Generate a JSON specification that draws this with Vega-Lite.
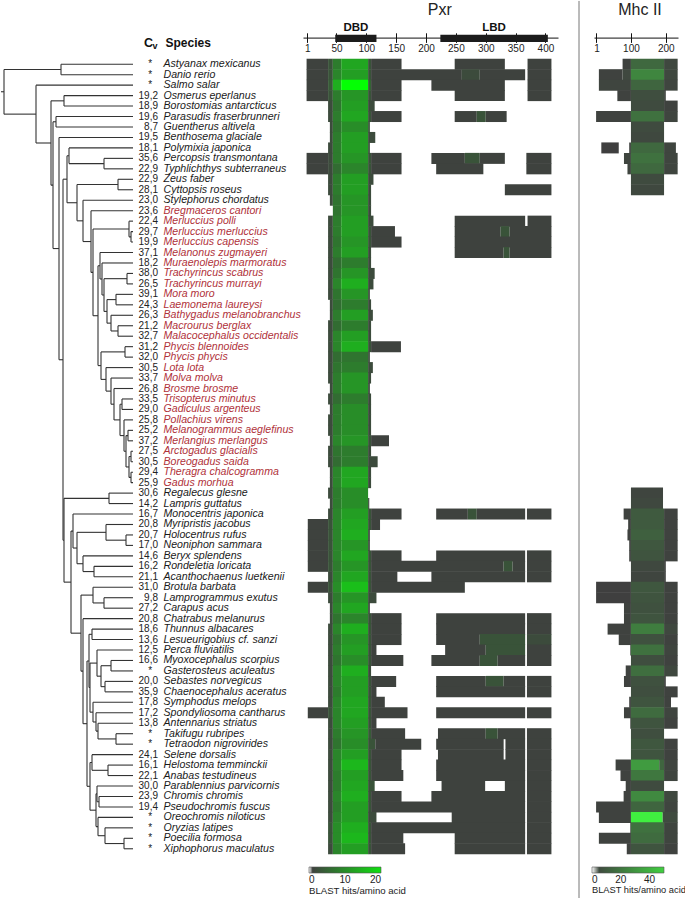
{
  "$schema": "https://vega.github.io/schema/vega-lite/v6.json",
  "padding": 0,
  "background": "white",
  "config": {"view": {"stroke": null}, "font": "Liberation Sans"},
  "datasets": {
    "species": [
      {"r":0,"sp":"Astyanax mexicanus","cv":"*","fam":"other"},
      {"r":1,"sp":"Danio rerio","cv":"*","fam":"other"},
      {"r":2,"sp":"Salmo salar","cv":"*","fam":"other"},
      {"r":3,"sp":"Osmerus eperlanus","cv":"19,2","fam":"other"},
      {"r":4,"sp":"Borostomias antarcticus","cv":"18,9","fam":"other"},
      {"r":5,"sp":"Parasudis fraserbrunneri","cv":"19,6","fam":"other"},
      {"r":6,"sp":"Guentherus altivela","cv":"8,7","fam":"other"},
      {"r":7,"sp":"Benthosema glaciale","cv":"19,5","fam":"other"},
      {"r":8,"sp":"Polymixia japonica","cv":"18,1","fam":"other"},
      {"r":9,"sp":"Percopsis transmontana","cv":"35,6","fam":"other"},
      {"r":10,"sp":"Typhlichthys subterraneus","cv":"22,9","fam":"other"},
      {"r":11,"sp":"Zeus faber","cv":"22,9","fam":"other"},
      {"r":12,"sp":"Cyttopsis roseus","cv":"28,1","fam":"other"},
      {"r":13,"sp":"Stylephorus chordatus","cv":"23,0","fam":"other"},
      {"r":14,"sp":"Bregmaceros cantori","cv":"23,6","fam":"Gadiformes"},
      {"r":15,"sp":"Merluccius polli","cv":"22,4","fam":"Gadiformes"},
      {"r":16,"sp":"Merluccius merluccius","cv":"29,7","fam":"Gadiformes"},
      {"r":17,"sp":"Merluccius capensis","cv":"19,9","fam":"Gadiformes"},
      {"r":18,"sp":"Melanonus zugmayeri","cv":"37,1","fam":"Gadiformes"},
      {"r":19,"sp":"Muraenolepis marmoratus","cv":"18,2","fam":"Gadiformes"},
      {"r":20,"sp":"Trachyrincus scabrus","cv":"38,0","fam":"Gadiformes"},
      {"r":21,"sp":"Trachyrincus murrayi","cv":"26,5","fam":"Gadiformes"},
      {"r":22,"sp":"Mora moro","cv":"39,1","fam":"Gadiformes"},
      {"r":23,"sp":"Laemonema laureysi","cv":"24,3","fam":"Gadiformes"},
      {"r":24,"sp":"Bathygadus melanobranchus","cv":"26,3","fam":"Gadiformes"},
      {"r":25,"sp":"Macrourus berglax","cv":"21,2","fam":"Gadiformes"},
      {"r":26,"sp":"Malacocephalus occidentalis","cv":"32,7","fam":"Gadiformes"},
      {"r":27,"sp":"Phycis blennoides","cv":"31,2","fam":"Gadiformes"},
      {"r":28,"sp":"Phycis phycis","cv":"32,0","fam":"Gadiformes"},
      {"r":29,"sp":"Lota lota","cv":"30,5","fam":"Gadiformes"},
      {"r":30,"sp":"Molva molva","cv":"33,7","fam":"Gadiformes"},
      {"r":31,"sp":"Brosme brosme","cv":"26,8","fam":"Gadiformes"},
      {"r":32,"sp":"Trisopterus minutus","cv":"33,5","fam":"Gadiformes"},
      {"r":33,"sp":"Gadiculus argenteus","cv":"29,0","fam":"Gadiformes"},
      {"r":34,"sp":"Pollachius virens","cv":"25,8","fam":"Gadiformes"},
      {"r":35,"sp":"Melanogrammus aeglefinus","cv":"25,2","fam":"Gadiformes"},
      {"r":36,"sp":"Merlangius merlangus","cv":"37,2","fam":"Gadiformes"},
      {"r":37,"sp":"Arctogadus glacialis","cv":"27,5","fam":"Gadiformes"},
      {"r":38,"sp":"Boreogadus saida","cv":"30,5","fam":"Gadiformes"},
      {"r":39,"sp":"Theragra chalcogramma","cv":"29,4","fam":"Gadiformes"},
      {"r":40,"sp":"Gadus morhua","cv":"25,9","fam":"Gadiformes"},
      {"r":41,"sp":"Regalecus glesne","cv":"30,6","fam":"other"},
      {"r":42,"sp":"Lampris guttatus","cv":"14,2","fam":"other"},
      {"r":43,"sp":"Monocentris japonica","cv":"16,7","fam":"other"},
      {"r":44,"sp":"Myripristis jacobus","cv":"20,8","fam":"other"},
      {"r":45,"sp":"Holocentrus rufus","cv":"20,7","fam":"other"},
      {"r":46,"sp":"Neoniphon sammara","cv":"17,0","fam":"other"},
      {"r":47,"sp":"Beryx splendens","cv":"14,6","fam":"other"},
      {"r":48,"sp":"Rondeletia loricata","cv":"16,2","fam":"other"},
      {"r":49,"sp":"Acanthochaenus luetkenii","cv":"21,1","fam":"other"},
      {"r":50,"sp":"Brotula barbata","cv":"31,0","fam":"other"},
      {"r":51,"sp":"Lamprogrammus exutus","cv":"9,8","fam":"other"},
      {"r":52,"sp":"Carapus acus","cv":"27,2","fam":"other"},
      {"r":53,"sp":"Chatrabus melanurus","cv":"20,8","fam":"other"},
      {"r":54,"sp":"Thunnus albacares","cv":"18,6","fam":"other"},
      {"r":55,"sp":"Lesueurigobius cf. sanzi","cv":"13,6","fam":"other"},
      {"r":56,"sp":"Perca fluviatilis","cv":"12,5","fam":"other"},
      {"r":57,"sp":"Myoxocephalus scorpius","cv":"16,6","fam":"other"},
      {"r":58,"sp":"Gasterosteus aculeatus","cv":"*","fam":"other"},
      {"r":59,"sp":"Sebastes norvegicus","cv":"20,0","fam":"other"},
      {"r":60,"sp":"Chaenocephalus aceratus","cv":"35,9","fam":"other"},
      {"r":61,"sp":"Symphodus melops","cv":"17,8","fam":"other"},
      {"r":62,"sp":"Spondyliosoma cantharus","cv":"17,2","fam":"other"},
      {"r":63,"sp":"Antennarius striatus","cv":"13,8","fam":"other"},
      {"r":64,"sp":"Takifugu rubripes","cv":"*","fam":"other"},
      {"r":65,"sp":"Tetraodon nigrovirides","cv":"*","fam":"other"},
      {"r":66,"sp":"Selene dorsalis","cv":"24,1","fam":"other"},
      {"r":67,"sp":"Helostoma temminckii","cv":"16,1","fam":"other"},
      {"r":68,"sp":"Anabas testudineus","cv":"22,1","fam":"other"},
      {"r":69,"sp":"Parablennius parvicornis","cv":"30,0","fam":"other"},
      {"r":70,"sp":"Chromis chromis","cv":"23,9","fam":"other"},
      {"r":71,"sp":"Pseudochromis fuscus","cv":"19,4","fam":"other"},
      {"r":72,"sp":"Oreochromis niloticus","cv":"*","fam":"other"},
      {"r":73,"sp":"Oryzias latipes","cv":"*","fam":"other"},
      {"r":74,"sp":"Poecilia formosa","cv":"*","fam":"other"},
      {"r":75,"sp":"Xiphophorus maculatus","cv":"*","fam":"other"}
    ],
    "tree": [
      {"x":3,"p":0,"y":2.63,"lo":0.5,"hi":4.77},
      {"x":60,"p":3,"y":0.5,"lo":0,"hi":1},
      {"x":35,"p":3,"y":4.77,"lo":2,"hi":7.53},
      {"x":50,"p":35,"y":7.53,"lo":3.5,"hi":11.56},
      {"x":63,"p":50,"y":3.5,"lo":3,"hi":4},
      {"x":52,"p":50,"y":11.56,"lo":5.5,"hi":17.62},
      {"x":55,"p":52,"y":5.5,"lo":5,"hi":6},
      {"x":58,"p":52,"y":17.62,"lo":7,"hi":28.25},
      {"x":62,"p":58,"y":28.25,"lo":10.99,"hi":45.5},
      {"x":66,"p":62,"y":10.99,"lo":8.75,"hi":13.24},
      {"x":68,"p":66,"y":8.75,"lo":8,"hi":9.5},
      {"x":103,"p":68,"y":9.5,"lo":9,"hi":10},
      {"x":76,"p":66,"y":13.24,"lo":11.5,"hi":14.97},
      {"x":117,"p":76,"y":11.5,"lo":11,"hi":12},
      {"x":82,"p":76,"y":14.97,"lo":13,"hi":16.95},
      {"x":90,"p":82,"y":16.95,"lo":14,"hi":19.9},
      {"x":92,"p":90,"y":19.9,"lo":15.75,"hi":24.04},
      {"x":128,"p":92,"y":15.75,"lo":15,"hi":16.5},
      {"x":130,"p":128,"y":16.5,"lo":16,"hi":17},
      {"x":97,"p":92,"y":24.04,"lo":19.27,"hi":28.81},
      {"x":99,"p":97,"y":19.27,"lo":18,"hi":20.53},
      {"x":101,"p":99,"y":20.53,"lo":19,"hi":22.06},
      {"x":103,"p":101,"y":22.06,"lo":20.5,"hi":23.63},
      {"x":126,"p":103,"y":20.5,"lo":20,"hi":21},
      {"x":106,"p":103,"y":23.63,"lo":22.5,"hi":24.75},
      {"x":115,"p":106,"y":22.5,"lo":22,"hi":23},
      {"x":110,"p":106,"y":24.75,"lo":24,"hi":25.5},
      {"x":117,"p":110,"y":25.5,"lo":25,"hi":26},
      {"x":100,"p":97,"y":28.81,"lo":27.5,"hi":30.13},
      {"x":124,"p":100,"y":27.5,"lo":27,"hi":28},
      {"x":105,"p":100,"y":30.13,"lo":29,"hi":31.25},
      {"x":110,"p":105,"y":31.25,"lo":30,"hi":32.5},
      {"x":113,"p":110,"y":32.5,"lo":31,"hi":34},
      {"x":119,"p":113,"y":34,"lo":32.5,"hi":35.5},
      {"x":121,"p":119,"y":32.5,"lo":32,"hi":33},
      {"x":123,"p":119,"y":35.5,"lo":34,"hi":37},
      {"x":125,"p":123,"y":37,"lo":35.5,"hi":38.5},
      {"x":127,"p":125,"y":35.5,"lo":35,"hi":36},
      {"x":128,"p":125,"y":38.5,"lo":37.5,"hi":39.5},
      {"x":130,"p":128,"y":37.5,"lo":37,"hi":38},
      {"x":130,"p":128,"y":39.5,"lo":39,"hi":40},
      {"x":63,"p":62,"y":45.5,"lo":41.5,"hi":49.51},
      {"x":108,"p":63,"y":41.5,"lo":41,"hi":42},
      {"x":70,"p":63,"y":49.51,"lo":44.63,"hi":54.39},
      {"x":72,"p":70,"y":44.63,"lo":43,"hi":46.25},
      {"x":76,"p":72,"y":46.25,"lo":44.75,"hi":47.75},
      {"x":105,"p":76,"y":44.75,"lo":44,"hi":45.5},
      {"x":125,"p":105,"y":45.5,"lo":45,"hi":46},
      {"x":82,"p":76,"y":47.75,"lo":47,"hi":48.5},
      {"x":93,"p":82,"y":48.5,"lo":48,"hi":49},
      {"x":80,"p":70,"y":54.39,"lo":50.75,"hi":58.02},
      {"x":92,"p":80,"y":50.75,"lo":50,"hi":51.5},
      {"x":103,"p":92,"y":51.5,"lo":51,"hi":52},
      {"x":82,"p":80,"y":58.02,"lo":53,"hi":63.04},
      {"x":86,"p":82,"y":63.04,"lo":57.05,"hi":69.03},
      {"x":88,"p":86,"y":57.05,"lo":54.5,"hi":59.59},
      {"x":91,"p":88,"y":54.5,"lo":54,"hi":55},
      {"x":89,"p":88,"y":59.59,"lo":57.25,"hi":61.94},
      {"x":96,"p":89,"y":57.25,"lo":56,"hi":58.5},
      {"x":100,"p":96,"y":58.5,"lo":57.5,"hi":59.5},
      {"x":110,"p":100,"y":57.5,"lo":57,"hi":58},
      {"x":104,"p":100,"y":59.5,"lo":59,"hi":60},
      {"x":92,"p":89,"y":61.94,"lo":61,"hi":62.88},
      {"x":95,"p":92,"y":62.88,"lo":62,"hi":63.75},
      {"x":97,"p":95,"y":63.75,"lo":63,"hi":64.5},
      {"x":115,"p":97,"y":64.5,"lo":64,"hi":65},
      {"x":89,"p":86,"y":69.03,"lo":66.75,"hi":71.31},
      {"x":91,"p":89,"y":66.75,"lo":66,"hi":67.5},
      {"x":107,"p":91,"y":67.5,"lo":67,"hi":68},
      {"x":95,"p":89,"y":71.31,"lo":69.75,"hi":72.88},
      {"x":96,"p":95,"y":69.75,"lo":69,"hi":70.5},
      {"x":98,"p":96,"y":70.5,"lo":70,"hi":71},
      {"x":97,"p":95,"y":72.88,"lo":72,"hi":73.75},
      {"x":104,"p":97,"y":73.75,"lo":73,"hi":74.5},
      {"x":123,"p":104,"y":74.5,"lo":74,"hi":75},
      {"x":132,"p":60,"y":0},{"x":132,"p":60,"y":1},{"x":132,"p":35,"y":2},{"x":132,"p":63,"y":3},{"x":132,"p":63,"y":4},
      {"x":132,"p":55,"y":5},{"x":132,"p":55,"y":6},{"x":132,"p":58,"y":7},{"x":132,"p":68,"y":8},{"x":132,"p":103,"y":9},
      {"x":132,"p":103,"y":10},{"x":132,"p":117,"y":11},{"x":132,"p":117,"y":12},{"x":132,"p":82,"y":13},{"x":132,"p":90,"y":14},
      {"x":132,"p":128,"y":15},{"x":132,"p":130,"y":16},{"x":132,"p":130,"y":17},{"x":132,"p":99,"y":18},{"x":132,"p":101,"y":19},
      {"x":132,"p":126,"y":20},{"x":132,"p":126,"y":21},{"x":132,"p":115,"y":22},{"x":132,"p":115,"y":23},{"x":132,"p":110,"y":24},
      {"x":132,"p":117,"y":25},{"x":132,"p":117,"y":26},{"x":132,"p":124,"y":27},{"x":132,"p":124,"y":28},{"x":132,"p":105,"y":29},
      {"x":132,"p":110,"y":30},{"x":132,"p":113,"y":31},{"x":132,"p":121,"y":32},{"x":132,"p":121,"y":33},{"x":132,"p":123,"y":34},
      {"x":132,"p":127,"y":35},{"x":132,"p":127,"y":36},{"x":132,"p":130,"y":37},{"x":132,"p":130,"y":38},{"x":132,"p":130,"y":39},
      {"x":132,"p":130,"y":40},{"x":132,"p":108,"y":41},{"x":132,"p":108,"y":42},{"x":132,"p":72,"y":43},{"x":132,"p":105,"y":44},
      {"x":132,"p":125,"y":45},{"x":132,"p":125,"y":46},{"x":132,"p":82,"y":47},{"x":132,"p":93,"y":48},{"x":132,"p":93,"y":49},
      {"x":132,"p":92,"y":50},{"x":132,"p":103,"y":51},{"x":132,"p":103,"y":52},{"x":132,"p":82,"y":53},{"x":132,"p":91,"y":54},
      {"x":132,"p":91,"y":55},{"x":132,"p":96,"y":56},{"x":132,"p":110,"y":57},{"x":132,"p":110,"y":58},{"x":132,"p":104,"y":59},
      {"x":132,"p":104,"y":60},{"x":132,"p":92,"y":61},{"x":132,"p":95,"y":62},{"x":132,"p":97,"y":63},{"x":132,"p":115,"y":64},
      {"x":132,"p":115,"y":65},{"x":132,"p":91,"y":66},{"x":132,"p":107,"y":67},{"x":132,"p":107,"y":68},{"x":132,"p":96,"y":69},
      {"x":132,"p":98,"y":70},{"x":132,"p":98,"y":71},{"x":132,"p":97,"y":72},{"x":132,"p":104,"y":73},{"x":132,"p":123,"y":74},
      {"x":132,"p":123,"y":75}
    ],
    "domains": [
      {"name":"DBD","a":48,"b":117,"mid":82.5},
      {"name":"LBD","a":224,"b":404,"mid":314}
    ],
    "pxr": [
      {"r":0,"a":[0,36,44,58,103,108,248,370],"b":[36,44,58,103,108,159,332,410],"v":[1,3,8,13,3,1,1,1]},
      {"r":1,"a":[0,36,44,58,103,108,260,290,370],"b":[36,44,58,103,108,260,290,366,410],"v":[1,3,9,12,3,1,2,1,1]},
      {"r":2,"a":[0,36,44,58,103,108,209,370],"b":[36,44,58,103,108,159,332,410],"v":[1,4,14,25,5,1,1,1]},
      {"r":3,"a":[0,36,44,58,103,108,248,370],"b":[36,44,58,103,108,159,332,410],"v":[1,3,8,11,3,1,1,1]},
      {"r":4,"a":[36,44,58,103],"b":[44,58,103,114],"v":[2,7,12,2]},
      {"r":5,"a":[36,44,58,103,108,248,285,300],"b":[44,58,103,108,159,285,300,335],"v":[2,8,13,3,1,1,3,1]},
      {"r":6,"a":[39,44,58,103],"b":[44,58,103,106],"v":[2,7,10,3]},
      {"r":7,"a":[39,44,58,103],"b":[44,58,103,115],"v":[2,8,12,2]},
      {"r":8,"a":[36,44,58,103],"b":[44,58,103,106],"v":[2,8,12,3]},
      {"r":9,"a":[0,36,44,58,103,108,209,265,290,368],"b":[36,44,58,103,108,159,265,290,332,410],"v":[1,2,8,11,3,1,1,3,1,1]},
      {"r":10,"a":[0,36,44,58,103,108,217,368],"b":[36,44,58,103,108,159,296,410],"v":[1,2,6,9,3,1,1,1]},
      {"r":11,"a":[36,44,58,103],"b":[44,58,103,112],"v":[2,8,12,2]},
      {"r":12,"a":[36,44,58,103,332],"b":[44,58,103,108,410],"v":[2,8,12,2,1]},
      {"r":13,"a":[39,44,58,103],"b":[44,58,103,108],"v":[2,7,11,2]},
      {"r":14,"a":[44,58,103],"b":[58,103,108],"v":[7,11,2]},
      {"r":15,"a":[36,44,58,103,248,370],"b":[44,58,103,112,366,410],"v":[2,8,12,2,1,1]},
      {"r":16,"a":[36,44,58,103,108,248,325,340],"b":[44,58,103,108,148,325,340,410],"v":[2,8,12,3,1,1,3,1]},
      {"r":17,"a":[36,44,58,103,108,248],"b":[44,58,103,108,159,410],"v":[2,7,11,3,1,1]},
      {"r":18,"a":[36,44,58,103,248,330,340],"b":[44,58,103,108,330,340,410],"v":[2,8,12,2,1,3,1]},
      {"r":19,"a":[36,44,58,103],"b":[44,58,103,108],"v":[2,6,8,2]},
      {"r":20,"a":[36,44,58,103],"b":[44,58,103,114],"v":[2,7,11,2]},
      {"r":21,"a":[36,44,58,103],"b":[44,58,103,112],"v":[2,9,14,2]},
      {"r":22,"a":[36,44,58,103],"b":[44,58,103,106],"v":[2,7,11,2]},
      {"r":23,"a":[39,44,58,103],"b":[44,58,103,108],"v":[2,6,8,2]},
      {"r":24,"a":[39,44,58,103],"b":[44,58,103,111],"v":[2,8,12,2]},
      {"r":25,"a":[36,44,58,103],"b":[44,58,103,108],"v":[2,6,8,2]},
      {"r":26,"a":[36,44,58,103],"b":[44,58,103,108],"v":[2,9,12,2]},
      {"r":27,"a":[36,44,58,103,108],"b":[44,58,103,108,158],"v":[2,9,14,3,1]},
      {"r":28,"a":[36,44,58,103],"b":[44,58,103,106],"v":[2,6,7,2]},
      {"r":29,"a":[36,44,58,103],"b":[44,58,103,111],"v":[2,7,8,2]},
      {"r":30,"a":[36,44,58,103],"b":[44,58,103,108],"v":[2,8,11,2]},
      {"r":31,"a":[39,44,58,103],"b":[44,58,103,106],"v":[2,8,11,2]},
      {"r":32,"a":[36,44,58,103],"b":[44,58,103,108],"v":[2,6,8,2]},
      {"r":33,"a":[39,44,58,103],"b":[44,58,103,108],"v":[2,8,10,2]},
      {"r":34,"a":[36,44,58,103],"b":[44,58,103,108],"v":[2,8,10,2]},
      {"r":35,"a":[36,44,58,103],"b":[44,58,103,108],"v":[2,8,10,2]},
      {"r":36,"a":[39,44,58,103,108],"b":[44,58,103,108,138],"v":[2,9,11,3,1]},
      {"r":37,"a":[36,44,58,103],"b":[44,58,103,108],"v":[2,7,8,2]},
      {"r":38,"a":[36,44,58,103],"b":[44,58,103,119],"v":[2,6,8,2]},
      {"r":39,"a":[39,44,58,103],"b":[44,58,103,108],"v":[2,9,13,2]},
      {"r":40,"a":[39,44,58,103],"b":[44,58,103,108],"v":[2,9,13,2]},
      {"r":41,"a":[36,44,58],"b":[44,58,103],"v":[2,8,10]},
      {"r":42,"a":[39,44,58,103],"b":[44,58,103,105],"v":[2,8,10,2]},
      {"r":43,"a":[36,44,58,103,108,217,270,285,369],"b":[44,58,103,108,159,270,285,366,410],"v":[2,9,12,3,1,1,3,1,1]},
      {"r":44,"a":[2,36,44,58,103,108],"b":[36,44,58,103,108,123],"v":[1,3,9,13,3,1]},
      {"r":45,"a":[2,36,44,58,103],"b":[36,44,58,103,106],"v":[1,3,9,14,2]},
      {"r":46,"a":[2,36,44,58,103],"b":[36,44,58,103,106],"v":[1,3,9,11,2]},
      {"r":47,"a":[2,36,44,58,103,108,217,369],"b":[36,44,58,103,108,159,366,410],"v":[1,3,9,13,3,1,1,1]},
      {"r":48,"a":[2,36,44,58,103,108,330,345,369],"b":[36,44,58,103,108,330,345,366,410],"v":[1,3,8,11,3,1,3,1,1]},
      {"r":49,"a":[36,44,58,103,108,209,369],"b":[44,58,103,108,152,366,410],"v":[2,9,13,3,1,1,1]},
      {"r":50,"a":[2,36,44,58,103,108],"b":[36,44,58,103,108,265],"v":[1,3,10,16,3,1]},
      {"r":51,"a":[36,44,58,103],"b":[44,58,103,117],"v":[2,8,11,2]},
      {"r":52,"a":[39,44,58,103],"b":[44,58,103,106],"v":[2,9,13,2]},
      {"r":53,"a":[39,44,58,103,108,217,369],"b":[44,58,103,108,159,366,410],"v":[2,7,9,3,1,1,1]},
      {"r":54,"a":[36,44,58,103,108,217,369],"b":[44,58,103,108,159,366,410],"v":[2,9,14,3,1,1,1]},
      {"r":55,"a":[36,44,58,103,108,217,290,369],"b":[44,58,103,108,159,290,366,410],"v":[2,7,11,3,1,1,3,2]},
      {"r":56,"a":[36,44,58,103,108,232,300,369],"b":[44,58,103,108,117,300,366,410],"v":[2,8,12,3,1,1,3,1]},
      {"r":57,"a":[36,44,58,103,108,209,290,320,369],"b":[44,58,103,108,162,290,320,366,410],"v":[2,7,10,3,1,1,3,1,1]},
      {"r":58,"a":[36,44,58,103],"b":[44,58,103,108],"v":[2,9,14,2]},
      {"r":59,"a":[36,44,58,103,108,217,300,330,369],"b":[44,58,103,108,150,300,330,366,410],"v":[2,9,12,3,1,1,3,1,1]},
      {"r":60,"a":[36,44,58,103,108,217,369],"b":[44,58,103,108,117,366,410],"v":[2,8,12,3,1,1,1]},
      {"r":61,"a":[36,44,58,103,108],"b":[44,58,103,108,131],"v":[2,9,13,3,1]},
      {"r":62,"a":[2,36,44,58,103,108,217,369],"b":[36,44,58,103,108,169,366,410],"v":[1,3,9,13,3,1,1,1]},
      {"r":63,"a":[36,44,58,103,108],"b":[44,58,103,108,117],"v":[2,9,12,3,1]},
      {"r":64,"a":[36,44,58,103,108,220,300,320,369],"b":[44,58,103,108,165,300,320,366,410],"v":[2,8,11,4,1,1,3,1,1]},
      {"r":65,"a":[36,44,58,103,115,217,333,369],"b":[44,58,103,115,192,330,366,410],"v":[2,7,10,3,1,1,1,1]},
      {"r":66,"a":[36,44,58,103,108,220,333,369],"b":[44,58,103,108,159,330,366,410],"v":[2,9,12,3,1,1,1,1]},
      {"r":67,"a":[36,44,58,103,108,217,369],"b":[44,58,103,108,159,366,410],"v":[2,9,15,3,1,1,1]},
      {"r":68,"a":[36,44,58,103,108,217,369],"b":[44,58,103,108,162,366,410],"v":[2,8,12,3,1,1,1]},
      {"r":69,"a":[36,44,58,103,226,332,369],"b":[44,58,103,114,299,366,410],"v":[2,8,13,3,1,1,1]},
      {"r":70,"a":[36,44,58,103,108,209,369],"b":[44,58,103,108,159,366,410],"v":[2,9,14,3,1,1,1]},
      {"r":71,"a":[36,44,58,103,108,369],"b":[44,58,103,108,366,410],"v":[2,8,12,3,1,1]},
      {"r":72,"a":[36,44,58,103,243,369],"b":[44,58,103,117,366,410],"v":[2,9,12,2,1,1]},
      {"r":73,"a":[36,44,58,103,108,369],"b":[44,58,103,108,366,410],"v":[3,10,14,3,1,1]},
      {"r":74,"a":[36,44,58,103,108,248,369],"b":[44,58,103,108,162,366,410],"v":[3,10,15,3,1,1,1]},
      {"r":75,"a":[36,44,58,103,108,248,369],"b":[44,58,103,108,165,366,410],"v":[2,9,12,3,1,1,1]}
    ],
    "mhc": [
      {"r":0,"a":[76,100,195],"b":[100,195,234],"v":[2,15,4]},
      {"r":1,"a":[8,76,100,195],"b":[76,100,195,234],"v":[2,4,25,4]},
      {"r":2,"a":[8,100,195],"b":[100,195,234],"v":[3,14,3]},
      {"r":3,"a":[61,100,195],"b":[100,195,200],"v":[2,6,3]},
      {"r":4,"a":[100,195],"b":[195,234],"v":[5,2]},
      {"r":5,"a":[0,100,195],"b":[100,195,234],"v":[2,18,3]},
      {"r":6,"a":[100],"b":[195],"v":[5]},
      {"r":7,"a":[100],"b":[195],"v":[4]},
      {"r":8,"a":[15,95,100,195],"b":[65,100,195,229],"v":[1,2,15,3]},
      {"r":9,"a":[80,100,195],"b":[100,195,234],"v":[3,18,3]},
      {"r":10,"a":[90,100,195],"b":[100,195,234],"v":[3,15,3]},
      {"r":11,"a":[100],"b":[195],"v":[5]},
      {"r":12,"a":[100],"b":[195],"v":[4]},
      {"r":41,"a":[100],"b":[192],"v":[3]},
      {"r":42,"a":[100],"b":[192],"v":[4]},
      {"r":43,"a":[79,100,195],"b":[100,195,234],"v":[2,10,2]},
      {"r":44,"a":[92,100,195],"b":[100,195,234],"v":[2,10,2]},
      {"r":45,"a":[90,100,195],"b":[100,195,234],"v":[2,12,2]},
      {"r":46,"a":[95,100,195],"b":[100,195,234],"v":[2,9,2]},
      {"r":47,"a":[95,100,195],"b":[100,195,234],"v":[2,8,2]},
      {"r":48,"a":[100,195],"b":[195,200],"v":[4,2]},
      {"r":49,"a":[100,195],"b":[195,200],"v":[3,2]},
      {"r":50,"a":[0,100,195],"b":[100,195,234],"v":[1,9,2]},
      {"r":51,"a":[0,100,195],"b":[100,195,234],"v":[1,8,2]},
      {"r":52,"a":[80,100,195],"b":[100,195,234],"v":[2,7,2]},
      {"r":53,"a":[80,100,195],"b":[100,195,234],"v":[2,8,2]},
      {"r":54,"a":[33,100,195],"b":[100,195,234],"v":[2,22,4]},
      {"r":55,"a":[65,100,195],"b":[100,195,234],"v":[2,7,2]},
      {"r":56,"a":[98,100,195],"b":[100,195,234],"v":[2,18,3]},
      {"r":57,"a":[100,195],"b":[195,234],"v":[6,2]},
      {"r":58,"a":[85,100,195],"b":[100,195,234],"v":[2,17,4]},
      {"r":59,"a":[80,100,195],"b":[100,195,200],"v":[2,7,2]},
      {"r":60,"a":[100,195],"b":[195,234],"v":[6,2]},
      {"r":61,"a":[95,100,195],"b":[100,195,215],"v":[2,8,2]},
      {"r":62,"a":[80,100,195],"b":[100,195,234],"v":[2,16,3]},
      {"r":63,"a":[98,100,195],"b":[100,195,234],"v":[2,8,2]},
      {"r":64,"a":[100],"b":[195],"v":[6]},
      {"r":65,"a":[100,195],"b":[195,234],"v":[9,2]},
      {"r":66,"a":[100,195],"b":[195,234],"v":[8,2]},
      {"r":67,"a":[56,100,181,195],"b":[100,181,195,234],"v":[2,32,14,3]},
      {"r":68,"a":[70,100,195],"b":[100,195,234],"v":[2,20,3]},
      {"r":69,"a":[85,100],"b":[100,195],"v":[2,5]},
      {"r":70,"a":[79,100,195],"b":[100,195,234],"v":[2,26,4]},
      {"r":71,"a":[0,100,195],"b":[100,195,234],"v":[2,14,3]},
      {"r":72,"a":[8,100,191],"b":[100,191,234],"v":[2,60,5]},
      {"r":73,"a":[98,100,195],"b":[100,195,234],"v":[2,18,3]},
      {"r":74,"a":[8,100,195],"b":[100,195,234],"v":[2,16,3]},
      {"r":75,"a":[88,100,195],"b":[100,195,234],"v":[2,8,2]}
    ]
  },
  "spacing": 0,
  "bounds": "flush",
  "resolve": {"scale": {"x": "independent", "y": "independent", "color": "independent"}, "legend": {"color": "independent"}},
  "hconcat": [
    {
      "width": 133,
      "height": 795,
      "data": {"name": "tree"},
      "layer": [
        {
          "mark": {"type": "rule", "color": "#333333", "strokeWidth": 1.1},
          "encoding": {
            "x": {"field": "p", "type": "quantitative", "scale": {"domain": [0, 133], "nice": false, "zero": false}, "axis": null},
            "x2": {"field": "x"},
            "y": {"field": "y", "type": "quantitative", "scale": {"domain": [-0.5, 75.5], "reverse": true, "nice": false, "zero": false}, "axis": null}
          }
        },
        {
          "transform": [{"filter": "datum.lo != null"}],
          "mark": {"type": "rule", "color": "#333333", "strokeWidth": 1.1},
          "encoding": {
            "x": {"field": "x", "type": "quantitative", "axis": null},
            "y": {"field": "lo", "type": "quantitative", "axis": null},
            "y2": {"field": "hi"}
          }
        }
      ]
    },
    {
      "width": 24,
      "height": 795,
      "layer": [
        {
          "data": {"name": "species"},
          "transform": [{"filter": "datum.cv != '*'"}],
          "mark": {"type": "text", "align": "right", "baseline": "middle", "x": "width", "fontSize": 10, "color": "#222222"},
          "encoding": {
            "y": {"field": "r", "type": "quantitative", "scale": {"domain": [-0.5, 75.5], "reverse": true, "nice": false, "zero": false}, "axis": null},
            "text": {"field": "cv"}
          }
        },
        {
          "data": {"name": "species"},
          "transform": [{"filter": "datum.cv == '*'"}],
          "mark": {"type": "text", "align": "center", "baseline": "middle", "x": "width", "dx": -7.7, "fontSize": 10, "color": "#222222"},
          "encoding": {
            "y": {"field": "r", "type": "quantitative", "axis": null},
            "text": {"field": "cv"}
          }
        },
        {
          "data": {"values": [{"t": "C"}]},
          "mark": {"type": "text", "align": "right", "baseline": "middle", "x": "width", "dx": -5, "fontSize": 12.5, "fontWeight": "bold", "color": "#111111"},
          "encoding": {"y": {"datum": -2.07, "type": "quantitative", "axis": null}, "text": {"field": "t"}}
        },
        {
          "data": {"values": [{"t": "v"}]},
          "mark": {"type": "text", "align": "right", "baseline": "middle", "x": "width", "dx": -0.5, "fontSize": 9, "fontWeight": "bold", "color": "#111111"},
          "encoding": {"y": {"datum": -1.72, "type": "quantitative", "axis": null}, "text": {"field": "t"}}
        }
      ]
    },
    {
      "width": 145,
      "height": 795,
      "layer": [
        {
          "data": {"name": "species"},
          "mark": {"type": "text", "align": "left", "baseline": "middle", "x": 0, "dx": 5.5, "fontSize": 10.6, "fontStyle": "italic"},
          "encoding": {
            "y": {"field": "r", "type": "quantitative", "scale": {"domain": [-0.5, 75.5], "reverse": true, "nice": false, "zero": false}, "axis": null},
            "text": {"field": "sp"},
            "color": {"field": "fam", "type": "nominal", "scale": {"domain": ["Gadiformes", "other"], "range": ["#b0323a", "#1a1a1a"]}, "legend": null}
          }
        },
        {
          "data": {"values": [{"t": "Species"}]},
          "mark": {"type": "text", "align": "left", "baseline": "middle", "x": 0, "dx": 7.5, "fontSize": 12, "fontWeight": "bold", "color": "#111111"},
          "encoding": {"y": {"datum": -2.07, "type": "quantitative", "axis": null}, "text": {"field": "t"}}
        }
      ]
    },
    {
      "width": 255,
      "height": 795,
      "resolve": {"axis": {"x": "independent"}},
      "layer": [
        {
          "data": {"name": "pxr"},
          "transform": [{"flatten": ["a", "b", "v"]}],
          "mark": {"type": "rect", "height": 11},
          "encoding": {
            "x": {"field": "a", "type": "quantitative", "scale": {"domain": [-6, 421], "nice": false, "zero": false},
                  "axis": {"orient": "top", "offset": 21.4, "values": [1, 50, 100, 150, 200, 250, 300, 350, 400], "labels": false, "tickSize": 4.8, "grid": false, "title": null, "domainColor": "#111111", "tickColor": "#111111"}},
            "x2": {"field": "b"},
            "y": {"field": "r", "type": "quantitative", "scale": {"domain": [-0.5, 75.5], "reverse": true, "nice": false, "zero": false}, "axis": null},
            "color": {"field": "v", "type": "quantitative",
                      "scale": {"domain": [0, 0.6, 20], "range": ["#ffffff", "#3f3f3f", "#10e010"], "interpolate": "rgb"},
                      "legend": {"orient": "none", "legendX": 6, "legendY": 808, "direction": "horizontal", "gradientLength": 72, "gradientThickness": 6, "title": "BLAST hits/amino acid", "titleOrient": "bottom", "titleAnchor": "start", "titleFontWeight": "normal", "titleFontSize": 9.6, "titleColor": "#222222", "titlePadding": 1, "labelFontSize": 10, "labelColor": "#222222", "values": [0, 10, 20], "gradientStrokeColor": "#555555", "gradientStrokeWidth": 0.6}}
          }
        },
        {
          "data": {"name": "domains"},
          "mark": {"type": "rect", "height": 7.4, "color": "#1c1c1c"},
          "encoding": {
            "x": {"field": "a", "type": "quantitative",
                  "axis": {"orient": "top", "offset": 16.6, "values": [1, 50, 100, 150, 200, 250, 300, 350, 400], "domain": false, "tickSize": 4.8, "tickColor": "#111111", "labelPadding": -10.8, "labelBaseline": "middle", "labelFontSize": 10, "labelColor": "#222222", "labelFlush": false, "labelOverlap": false, "grid": false, "title": null}},
            "x2": {"field": "b"},
            "y": {"datum": -2.47, "type": "quantitative", "axis": null}
          }
        },
        {
          "data": {"name": "domains"},
          "mark": {"type": "text", "fontWeight": "bold", "fontSize": 11.5, "baseline": "middle", "color": "#111111"},
          "encoding": {
            "x": {"field": "mid", "type": "quantitative", "axis": null},
            "y": {"datum": -3.43, "type": "quantitative", "axis": null},
            "text": {"field": "name"}
          }
        },
        {
          "data": {"values": [{"t": "Pxr"}]},
          "mark": {"type": "text", "fontSize": 16, "baseline": "alphabetic", "color": "#222222"},
          "encoding": {
            "x": {"datum": 223, "type": "quantitative", "axis": null},
            "y": {"datum": -4.67, "type": "quantitative", "axis": null},
            "text": {"field": "t"}
          }
        }
      ]
    },
    {
      "width": 36,
      "height": 795,
      "data": {"values": [{"t": "sep"}]},
      "mark": {"type": "rule", "color": "#777777", "strokeWidth": 1},
      "encoding": {
        "x": {"datum": 21, "type": "quantitative", "scale": {"domain": [0, 36], "nice": false, "zero": false}, "axis": null},
        "y": {"datum": -6.05, "type": "quantitative", "scale": {"domain": [-0.5, 75.5], "reverse": true, "nice": false, "zero": false}, "axis": null},
        "y2": {"datum": 79.8}
      }
    },
    {
      "width": 84,
      "height": 795,
      "resolve": {"axis": {"x": "independent"}},
      "layer": [
        {
          "data": {"name": "mhc"},
          "transform": [{"flatten": ["a", "b", "v"]}],
          "mark": {"type": "rect", "height": 11},
          "encoding": {
            "x": {"field": "a", "type": "quantitative", "scale": {"domain": [-6, 235], "nice": false, "zero": false},
                  "axis": {"orient": "top", "offset": 21.4, "values": [1, 100, 200], "labels": false, "tickSize": 4.8, "grid": false, "title": null, "domainColor": "#111111", "tickColor": "#111111"}},
            "x2": {"field": "b"},
            "y": {"field": "r", "type": "quantitative", "scale": {"domain": [-0.5, 75.5], "reverse": true, "nice": false, "zero": false}, "axis": null},
            "color": {"field": "v", "type": "quantitative",
                      "scale": {"domain": [0, 1, 50], "range": ["#ffffff", "#3f3f3f", "#40d040"], "interpolate": "rgb"},
                      "legend": {"orient": "none", "legendX": -2, "legendY": 808, "direction": "horizontal", "gradientLength": 72, "gradientThickness": 6, "title": "BLAST hits/amino acid", "titleOrient": "bottom", "titleAnchor": "start", "titleFontWeight": "normal", "titleFontSize": 9.3, "titleColor": "#222222", "titlePadding": 1, "labelFontSize": 10, "labelColor": "#222222", "values": [0, 20, 40], "gradientStrokeColor": "#555555", "gradientStrokeWidth": 0.6}}
          }
        },
        {
          "data": {"values": [{"t": "Mhc II"}]},
          "mark": {"type": "text", "fontSize": 16, "baseline": "alphabetic", "color": "#222222"},
          "encoding": {
            "x": {"datum": 126, "type": "quantitative",
                  "axis": {"orient": "top", "offset": 16.6, "values": [1, 100, 200], "domain": false, "tickSize": 4.8, "tickColor": "#111111", "labelPadding": -10.8, "labelBaseline": "middle", "labelFontSize": 10, "labelColor": "#222222", "labelFlush": false, "labelOverlap": false, "grid": false, "title": null}},
            "y": {"datum": -4.67, "type": "quantitative", "axis": null},
            "text": {"field": "t"}
          }
        }
      ]
    }
  ]
}
